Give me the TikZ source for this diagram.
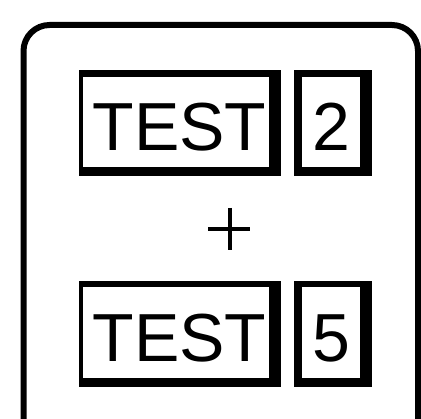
\documentclass[tikz,border=0pt]{standalone}
\usepackage{fontspec}
\setmainfont{Liberation Sans}
\begin{document}
\begin{tikzpicture}[x=1pt,y=-1pt,
  lbl/.style={inner sep=0pt,font=\fontsize{68}{80}\selectfont}]
\useasboundingbox (0,0) rectangle (421,419);
\begin{scope}
\clip (0,0) rectangle (421,419);
\draw[line width=6pt,rounded corners=26pt] (23.5,25) rectangle (418,470);
\end{scope}
% top row
\fill (79,70) rectangle (281,176);
\fill[white] (83,77) rectangle (269,167);
\fill (294,70) rectangle (372,176);
\fill[white] (302,77) rectangle (360,167);
% bottom row
\fill (79,281) rectangle (281,387);
\fill[white] (83,287) rectangle (269,378);
\fill (294,281) rectangle (372,387);
\fill[white] (302,287) rectangle (360,378);
\node[lbl] (t1) at (179.5,127) {TEST};
\node[lbl] (n2) at (331.5,127) {2};
\node[lbl] (t2) at (179.5,338) {TEST};
\node[lbl] (n5) at (331.5,338) {5};
\draw[line width=4pt] (208,229) -- (250,229) (229.5,208) -- (229.5,250);
\end{tikzpicture}
\end{document}
